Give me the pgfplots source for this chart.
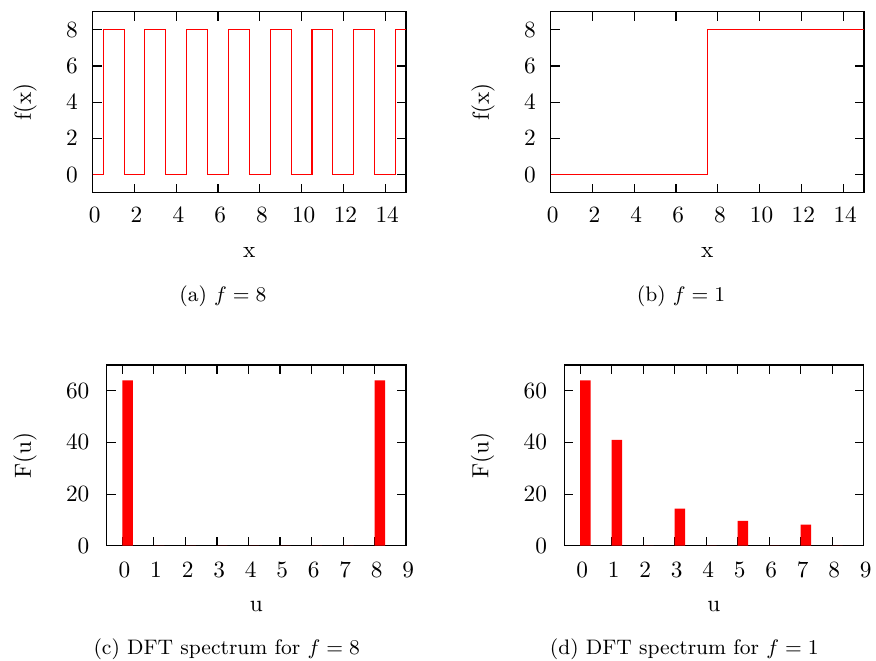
\documentclass[border=0pt]{standalone}
\usepackage{pgfplots}
\pgfplotsset{compat=1.18}
\pgfplotsset{
  gp/.style={
    scale only axis,
    anchor=south west,
    tick pos=both,
    tick align=inside,
    major tick length=3.9pt,
    axis line style={line width=0.5pt},
    every tick/.style={black, line width=0.45pt},
    tick label style={font=\normalsize},
    label style={font=\normalsize},
  },
  topax/.style={
    gp,
    width=134.47pt, height=77.69pt,
    xmin=0, xmax=15, ymin=-1, ymax=9,
    xtick={0,2,...,14}, ytick={0,2,4,6,8},
    xlabel={x}, ylabel={f(x)},
    xticklabel style={yshift=-2.7pt, xshift=0.9pt},
    yticklabel style={xshift=-2.9pt},
    xlabel style={at={(axis description cs:0.5,-0.328)}, anchor=center},
    ylabel style={at={(axis description cs:-0.216,0.5)}, anchor=center},
  },
  botax/.style={
    gp,
    width=128.5pt, height=77.56pt,
    xmin=-0.5, xmax=9, ymin=0, ymax=70,
    xtick={0,1,...,9}, ytick={0,20,40,60},
    xlabel={u}, ylabel={F(u)},
    xticklabel style={yshift=-3.5pt, xshift=0.9pt},
    yticklabel style={xshift=-3.9pt},
    xlabel style={at={(axis description cs:0.5,-0.334)}, anchor=center},
    ylabel style={at={(axis description cs:-0.273,0.5)}, anchor=center},
  },
}
\begin{document}
\begin{tikzpicture}
\useasboundingbox (0pt,0pt) rectangle (376pt,-283.7pt);

% (a) f = 8
\begin{axis}[topax, at={(39.79pt,-82.71pt)}]
\addplot[red, line width=0.45pt, const plot mark mid] coordinates {
(0,0) (1,8) (2,0) (3,8) (4,0) (5,8) (6,0) (7,8)
(8,0) (9,8) (10,0) (11,8) (12,0) (13,8) (14,0) (15,8)};
\end{axis}

% (b) f = 1
\begin{axis}[topax, at={(236.36pt,-82.71pt)}]
\addplot[red, line width=0.45pt, const plot mark mid] coordinates {
(0,0) (1,0) (2,0) (3,0) (4,0) (5,0) (6,0) (7,0)
(8,8) (9,8) (10,8) (11,8) (12,8) (13,8) (14,8) (15,8)};
\end{axis}

% (c) DFT spectrum for f = 8
\begin{axis}[botax, at={(45.80pt,-234.22pt)}]
\addplot[ybar, bar width=0.333, bar shift=0.1667, fill=red, draw=none] coordinates {
(0,64) (1,0) (2,0) (3,0) (4,0) (5,0) (6,0) (7,0) (8,64)};
\end{axis}

% (d) DFT spectrum for f = 1
\begin{axis}[botax, at={(242.20pt,-234.22pt)}]
\addplot[ybar, bar width=0.333, bar shift=0.1667, fill=red, draw=none] coordinates {
(0,64) (1,41.0) (2,0) (3,14.4) (4,0) (5,9.62) (6,0) (7,8.16) (8,0)};
\end{axis}

\node[anchor=base, font=\small] at (95.7pt,-129.4pt) {(a) $f = 8$};
\node[anchor=base, font=\small] at (292.3pt,-129.4pt) {(b) $f = 1$};
\node[anchor=base, font=\small] at (97.3pt,-281.1pt) {(c) DFT spectrum for $f = 8$};
\node[anchor=base, font=\small] at (293.7pt,-281.1pt) {(d) DFT spectrum for $f = 1$};
\end{tikzpicture}
\end{document}
